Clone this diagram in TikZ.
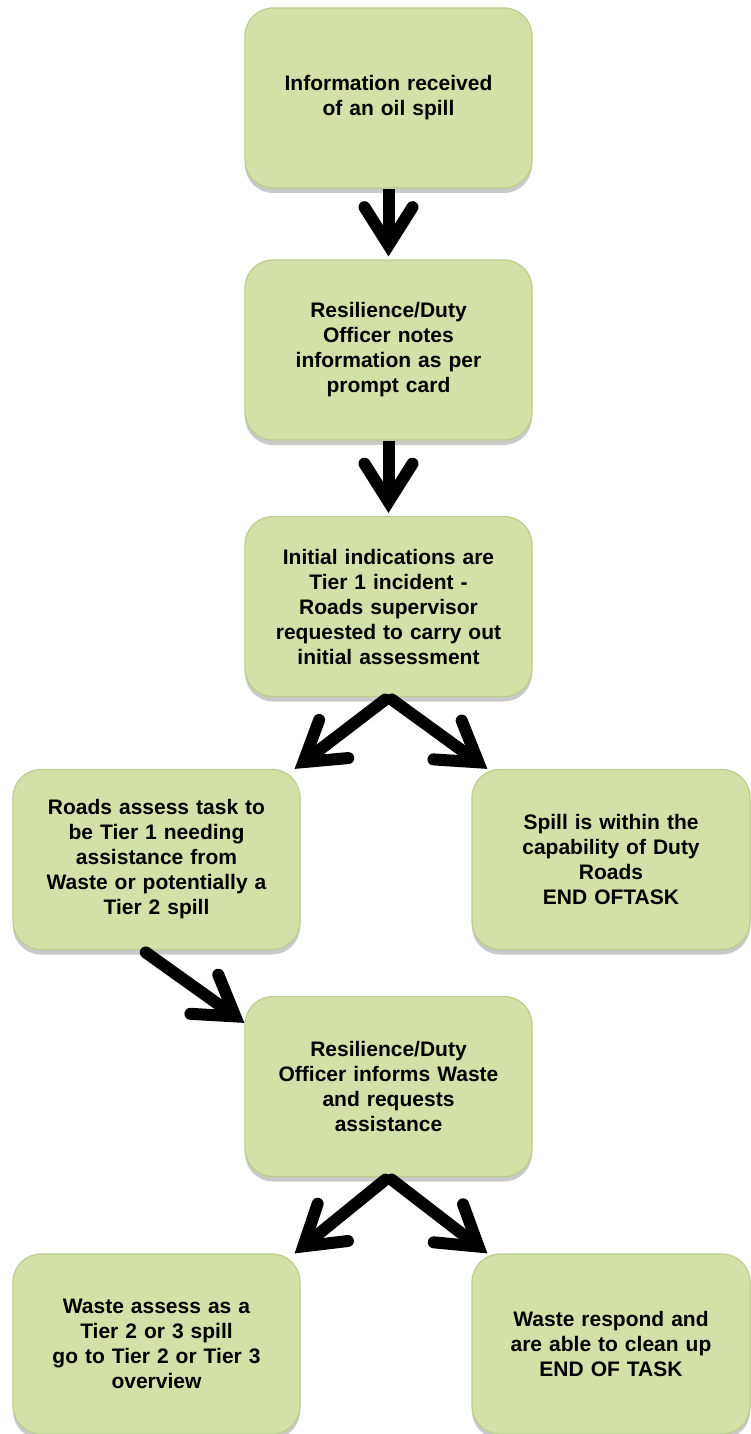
\documentclass[tikz,border=0pt]{standalone}
\usepackage{fontspec}
\setmainfont{Liberation Sans}
\usepackage{xcolor}
\usetikzlibrary{arrows.meta}
\usetikzlibrary{shadows}
\definecolor{boxfill}{HTML}{D3E1A8}
\definecolor{boxline}{HTML}{BACE8C}

\begin{document}
\begin{tikzpicture}[x=1pt, y=-1pt,
		stepbox/.style={draw=boxline, line width=1.2pt, fill=boxfill, rounded corners=28pt,
			minimum width=287pt, minimum height=180pt, text width=265pt, align=center,
			font=\fontsize{21}{25}\selectfont\bfseries,
			drop shadow={shadow xshift=0pt, shadow yshift=-5pt, opacity=0.3, fill=black!70}},
		flow/.style={line width=12pt, line cap=round,
			-{Straight Barb[length=38pt, width=48pt, line cap=round, line join=miter]}}]
		\useasboundingbox (0,0) rectangle (751,1434);
		\node[stepbox] (info) at (388.5,98) {Information received\\of an oil spill};
		\node[stepbox] (notes) at (388.5,350) {Resilience/Duty\\Officer notes\\information as per\\prompt card};
		\node[stepbox] (initial) at (388.5,606.5) {Initial indications are\\Tier 1 incident -\\Roads supervisor\\requested to carry out\\initial assessment};
		\node[stepbox] (roads) at (156.5,859.5) {Roads assess task to\\be Tier 1 needing\\assistance from\\Waste or potentially a\\Tier 2 spill};
		\node[stepbox, minimum width=278pt] (within) at (611,859.5) {Spill is within the\\capability of Duty\\Roads\\END OFTASK};
		\node[stepbox] (informs) at (388.5,1086.5) {Resilience/Duty\\Officer informs Waste\\and requests\\assistance};
		\node[stepbox] (waste) at (156.5,1344) {Waste assess as a\\Tier 2 or 3 spill\\go to Tier 2 or Tier 3\\overview};
		\node[stepbox, minimum width=278pt] (respond) at (611,1344) {Waste respond and\\are able to clean up\\END OF TASK};
		\foreach \a/\b in {info/notes, notes/initial} {
			\draw[flow, line cap=butt, shorten >=3pt] (\a.south) -- (\b.north);
		}
		\draw[flow, shorten <=4pt] (initial.south) -- ([xshift=-6pt]roads.north east);
		\draw[flow, shorten <=4pt] (initial.south) -- ([xshift=16pt]within.north west);
		\draw[flow, shorten <=4pt] ([xshift=-14pt]roads.south) -- ([yshift=-27pt]informs.north west);
		\draw[flow, shorten <=4pt] (informs.south) -- ([xshift=-6pt]waste.north east);
		\draw[flow, shorten <=4pt] (informs.south) -- ([xshift=16pt]respond.north west);
	\end{tikzpicture}
\end{document}
